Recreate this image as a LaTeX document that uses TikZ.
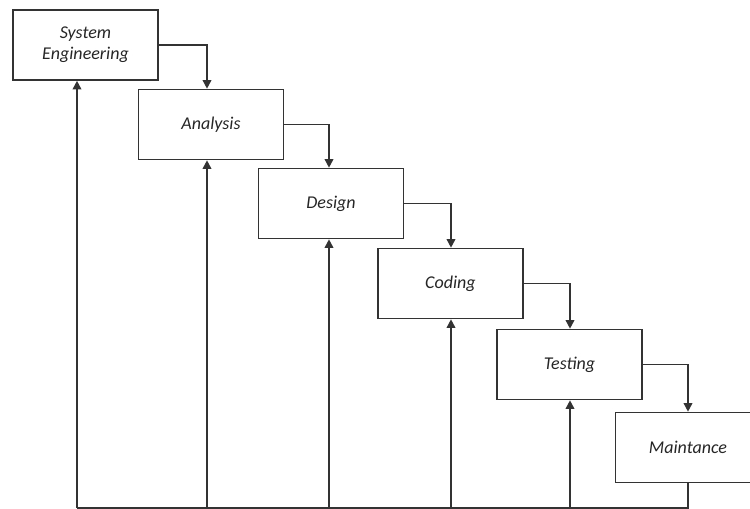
\documentclass[tikz,border=0pt]{standalone}
\usepackage{fontspec}
\setmainfont{Carlito}
\usetikzlibrary{arrows.meta}
\begin{document}
\begin{tikzpicture}[x=0.75pt,y=-0.75pt,>={Triangle[length=6.5pt,width=6.5pt]},
    phase/.style={draw=black!80,line width=1.2pt,minimum width=108.75pt,minimum height=52.5pt,
        align=center,text=black!85,font=\fontsize{13.5}{16}\selectfont\itshape},
    flow/.style={draw=black!80,line width=1.2pt}]
    \useasboundingbox (0,0) rectangle (750,509);
    % phases
    \node[phase] (se) at (85.5,45) {System\\Engineering};
    \node[phase] (an) at (211,124.5) {Analysis};
    \node[phase] (de) at (331,203.5) {Design};
    \node[phase] (co) at (450.5,283.5) {Coding};
    \node[phase] (te) at (569.5,364.5) {Testing};
    \node[phase] (ma) at (688,447.5) {Maintance};
    % feedback line along the bottom
    \coordinate (c1) at (77,508);
    \coordinate (c2) at (207,508);
    \coordinate (c3) at (329,508);
    \coordinate (c4) at (451,508);
    \coordinate (c5) at (570,508);
    \coordinate (c6) at (688,508);
    \draw[flow,->] (se.east) -| (c2 |- an.north);
    \draw[flow,->] (an.east) -| (c3 |- de.north);
    \draw[flow,->] (de.east) -| (c4 |- co.north);
    \draw[flow,->] (co.east) -| (c5 |- te.north);
    \draw[flow,->] (te.east) -| (c6 |- ma.north);
    \draw[flow] (c1) -- (c6) -- (c6 |- ma.south);
    \draw[flow,->] (c1) -- (c1 |- se.south);
    \draw[flow,->] (c2) -- (c2 |- an.south);
    \draw[flow,->] (c3) -- (c3 |- de.south);
    \draw[flow,->] (c4) -- (c4 |- co.south);
    \draw[flow,->] (c5) -- (c5 |- te.south);
\end{tikzpicture}
\end{document}
